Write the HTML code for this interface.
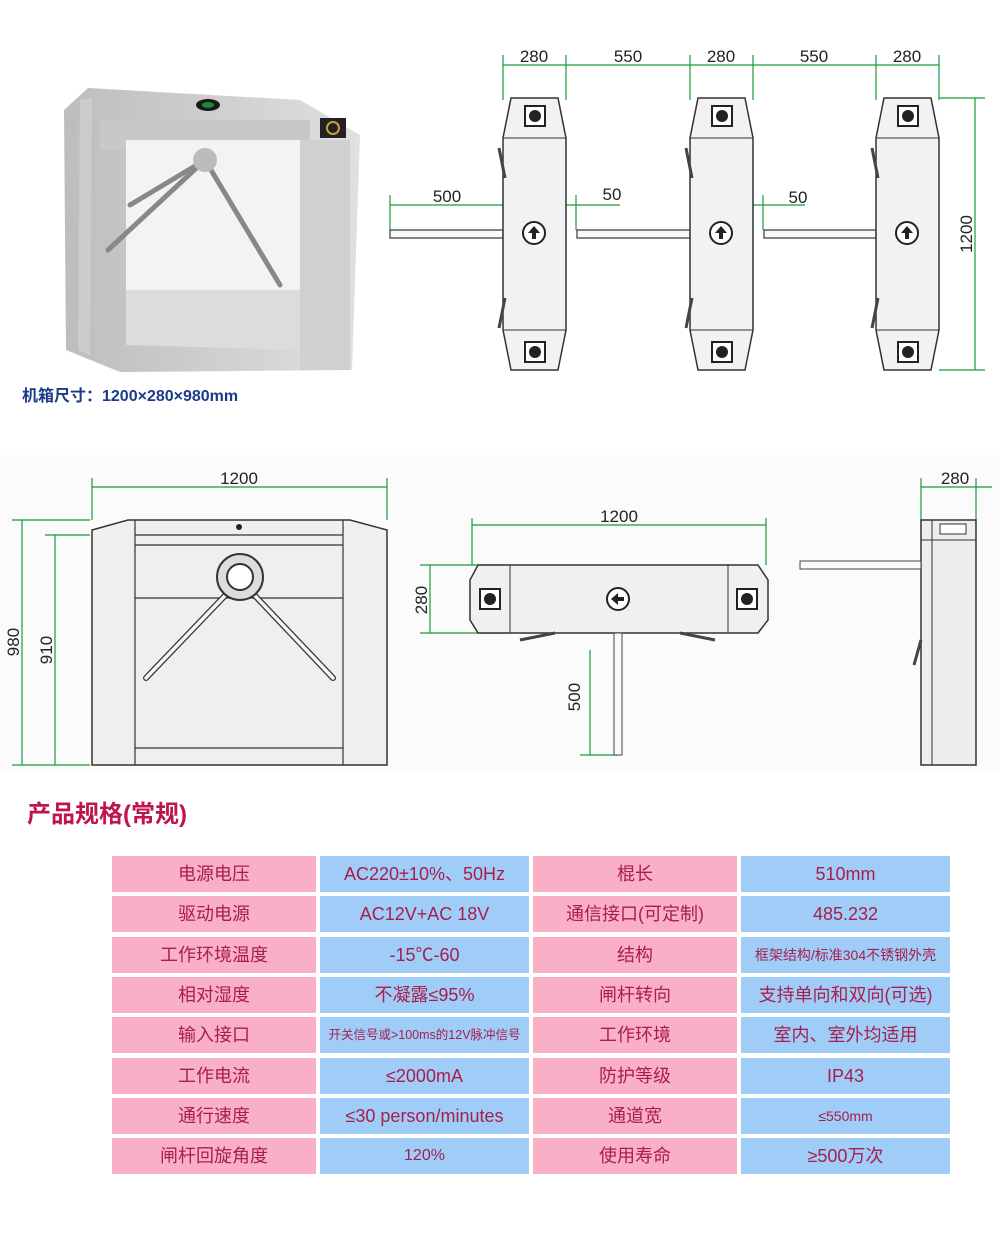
<!DOCTYPE html>
<html><head><meta charset="utf-8"><style>
body{margin:0;background:#fff;width:1000px;height:1248px;overflow:hidden;position:relative;font-family:"Liberation Sans","Noto Sans CJK SC",sans-serif}
svg{position:absolute;left:0;top:0}
.t{position:absolute;color:#a81e4c;font-size:18px;text-align:center;line-height:36px;height:36px;white-space:nowrap;overflow:hidden}
.p{background:#f9afc6}.b{background:#9fcdf8}
</style></head><body>
<svg width="1000" height="840" viewBox="0 0 1000 840" font-family="Liberation Sans, sans-serif">
<defs>
<linearGradient id="g1" x1="0" x2="1"><stop offset="0" stop-color="#bdbdbd"/><stop offset="1" stop-color="#e0e0e0"/></linearGradient>
<g id="unit">
<path d="M8 0 H55 L63 40 V232 L55 272 H8 L0 232 V40 Z" fill="#f2f2f2" stroke="#333" stroke-width="1.5"/>
<line x1="0" y1="40" x2="63" y2="40" stroke="#333"/><line x1="0" y1="232" x2="63" y2="232" stroke="#333"/>
<rect x="22" y="8" width="20" height="20" fill="#fff" stroke="#222" stroke-width="2"/><circle cx="32" cy="18" r="6" fill="#222"/>
<rect x="22" y="244" width="20" height="20" fill="#fff" stroke="#222" stroke-width="2"/><circle cx="32" cy="254" r="6" fill="#222"/>
<circle cx="31" cy="135" r="11" fill="#fff" stroke="#222" stroke-width="2"/><path d="M31 128 L37 135 H33 V141 H29 V135 H25 Z" fill="#222"/>
<path d="M-4 50 L2 80 M-4 230 L2 200" stroke="#444" stroke-width="3"/>
</g>
</defs>
<!-- photo -->
<path d="M88 88 L300 100 L360 135 L352 370 L120 372 L66 350 L64 110 Z" fill="url(#g1)"/>
<path d="M80 100 L92 98 L90 355 L78 350 Z" fill="#ccc"/>
<rect x="100" y="120" width="210" height="30" fill="#c8c8c8"/>
<rect x="126" y="140" width="180" height="150" fill="#f3f3f3"/>
<path d="M126 290 L300 290 L300 350 L126 345 Z" fill="#dcdcdc"/>
<rect x="300" y="140" width="50" height="230" fill="#d0d0d0"/>
<ellipse cx="208" cy="105" rx="12" ry="6" fill="#1a1a1a"/><ellipse cx="208" cy="105" rx="6" ry="3" fill="#1c8a3a"/>
<rect x="320" y="118" width="26" height="20" fill="#222"/><circle cx="333" cy="128" r="6" fill="none" stroke="#c9a040" stroke-width="2"/>
<path d="M205 160 L108 250 M205 160 L280 285 M205 160 L130 205" stroke="#888" stroke-width="5" stroke-linecap="round"/>
<circle cx="205" cy="160" r="12" fill="#bbb"/>
<text x="22" y="401" font-size="16" font-weight="bold" fill="#1b3a8a" font-family="Liberation Sans, Noto Sans CJK SC, sans-serif">机箱尺寸：1200×280×980mm</text>
<!-- plan -->
<g stroke="#1a9a3a" stroke-width="1.2" fill="none">
<line x1="503" y1="65" x2="939" y2="65"/>
<path d="M503 55 V100 M566 55 V100 M690 55 V100 M753 55 V100 M876 55 V100 M939 55 V100"/>
<line x1="939" y1="98" x2="985" y2="98"/><line x1="939" y1="370" x2="985" y2="370"/><line x1="975" y1="98" x2="975" y2="370"/>
<line x1="390" y1="205" x2="503" y2="205"/><line x1="390" y1="195" x2="390" y2="230"/>
<line x1="566" y1="205" x2="620" y2="205"/><line x1="576" y1="195" x2="576" y2="230"/>
<line x1="753" y1="205" x2="805" y2="205"/><line x1="763" y1="195" x2="763" y2="230"/>
</g>
<g font-size="17" fill="#222" text-anchor="middle">
<text x="534" y="62">280</text><text x="628" y="62">550</text><text x="721" y="62">280</text><text x="814" y="62">550</text><text x="907" y="62">280</text>
<text x="447" y="202">500</text><text x="612" y="200">50</text><text x="798" y="203">50</text>
<text x="0" y="0" transform="translate(972,234) rotate(-90)">1200</text>
</g>
<g stroke="#444" stroke-width="1.3" fill="#fafafa">
<rect x="390" y="230" width="113" height="8"/><rect x="577" y="230" width="113" height="8"/><rect x="764" y="230" width="112" height="8"/>
</g>
<use href="#unit" x="503" y="98"/><use href="#unit" x="690" y="98"/><use href="#unit" x="876" y="98"/>
<rect x="0" y="455" width="1000" height="318" fill="#fbfbfb"/>
<!-- front -->
<g stroke="#1a9a3a" stroke-width="1.2" fill="none">
<line x1="92" y1="487" x2="387" y2="487"/><line x1="92" y1="478" x2="92" y2="520"/><line x1="387" y1="478" x2="387" y2="520"/>
<line x1="12" y1="520" x2="90" y2="520"/><line x1="12" y1="765" x2="90" y2="765"/><line x1="22" y1="520" x2="22" y2="765"/>
<line x1="45" y1="535" x2="90" y2="535"/><line x1="55" y1="535" x2="55" y2="765"/>
</g>
<path d="M92 530 L128 520 H350 L387 530 V765 H92 Z" fill="#efefef" stroke="#333" stroke-width="1.5"/>
<path d="M135 520 V765 M343 520 V765 M135 535 H343 M135 545 H343 M135 598 H343 M135 748 H343" stroke="#333" stroke-width="1.2" fill="none"/>
<circle cx="239" cy="527" r="3" fill="#222"/>
<path d="M240 580 L146 678 M240 580 L333 678" stroke="#333" stroke-width="6" stroke-linecap="round"/>
<path d="M240 580 L146 678 M240 580 L333 678" stroke="#f5f5f5" stroke-width="3.5" stroke-linecap="round"/>
<circle cx="240" cy="577" r="23" fill="#ddd" stroke="#333" stroke-width="2"/><circle cx="240" cy="577" r="13" fill="#fff" stroke="#333" stroke-width="2"/>
<g font-size="17" fill="#222" text-anchor="middle">
<text x="239" y="484">1200</text>
<text transform="translate(19,642) rotate(-90)">980</text>
<text transform="translate(52,650) rotate(-90)">910</text>
</g>
<!-- top view -->
<g stroke="#1a9a3a" stroke-width="1.2" fill="none">
<line x1="472" y1="525" x2="766" y2="525"/><line x1="472" y1="518" x2="472" y2="565"/><line x1="766" y1="518" x2="766" y2="565"/>
<line x1="420" y1="565" x2="505" y2="565"/><line x1="420" y1="633" x2="505" y2="633"/><line x1="430" y1="565" x2="430" y2="633"/>
<line x1="590" y1="650" x2="590" y2="755"/><line x1="580" y1="755" x2="618" y2="755"/>
</g>
<path d="M470 580 L478 565 H758 L768 580 V620 L758 633 H478 L470 620 Z" fill="#f0f0f0" stroke="#333" stroke-width="1.5"/>
<path d="M510 565 V633 M728 565 V633" stroke="#333"/>
<rect x="480" y="589" width="20" height="20" fill="#fff" stroke="#222" stroke-width="2"/><circle cx="490" cy="599" r="6" fill="#222"/>
<rect x="737" y="589" width="20" height="20" fill="#fff" stroke="#222" stroke-width="2"/><circle cx="747" cy="599" r="6" fill="#222"/>
<circle cx="618" cy="599" r="11" fill="#fff" stroke="#222" stroke-width="2"/><path d="M611 599 L618 593 V597 H624 V601 H618 V605 Z" fill="#222"/>
<rect x="614" y="633" width="8" height="122" fill="#fafafa" stroke="#444"/>
<path d="M520 640 L555 633 M715 640 L680 633" stroke="#444" stroke-width="3"/>
<g font-size="17" fill="#222" text-anchor="middle">
<text x="619" y="522">1200</text>
<text transform="translate(427,600) rotate(-90)">280</text>
<text transform="translate(580,697) rotate(-90)">500</text>
</g>
<!-- side -->
<g stroke="#1a9a3a" stroke-width="1.2" fill="none">
<line x1="921" y1="487" x2="992" y2="487"/><line x1="921" y1="478" x2="921" y2="520"/><line x1="976" y1="478" x2="976" y2="520"/>
</g>
<path d="M921 520 H976 V765 H921 Z" fill="#eee" stroke="#333" stroke-width="1.5"/>
<path d="M932 520 V765 M921 540 H976" stroke="#333"/>
<rect x="940" y="524" width="26" height="10" fill="#fff" stroke="#333"/>
<rect x="800" y="561" width="121" height="8" fill="#fafafa" stroke="#444"/>
<path d="M914 665 L921 640" stroke="#444" stroke-width="3"/>
<text x="955" y="484" font-size="17" fill="#222" text-anchor="middle">280</text>
<!-- title -->
<text x="27" y="822" font-size="24" font-weight="bold" fill="#c0154a" font-family="Liberation Sans, Noto Sans CJK SC, sans-serif">产品规格(常规)</text>
</svg>

<div class="t p" style="left:112px;top:856px;width:204px">电源电压</div>
<div class="t b" style="left:320px;top:856px;width:209px">AC220±10%、50Hz</div>
<div class="t p" style="left:533px;top:856px;width:204px">棍长</div>
<div class="t b" style="left:741px;top:856px;width:209px">510mm</div>

<div class="t p" style="left:112px;top:896px;width:204px">驱动电源</div>
<div class="t b" style="left:320px;top:896px;width:209px">AC12V+AC 18V</div>
<div class="t p" style="left:533px;top:896px;width:204px">通信接口(可定制)</div>
<div class="t b" style="left:741px;top:896px;width:209px">485.232</div>

<div class="t p" style="left:112px;top:937px;width:204px">工作环境温度</div>
<div class="t b" style="left:320px;top:937px;width:209px">-15℃-60</div>
<div class="t p" style="left:533px;top:937px;width:204px">结构</div>
<div class="t b" style="left:741px;top:937px;width:209px;font-size:14px">框架结构/标准304不锈钢外壳</div>

<div class="t p" style="left:112px;top:977px;width:204px">相对湿度</div>
<div class="t b" style="left:320px;top:977px;width:209px">不凝露≤95%</div>
<div class="t p" style="left:533px;top:977px;width:204px">闸杆转向</div>
<div class="t b" style="left:741px;top:977px;width:209px">支持单向和双向(可选)</div>

<div class="t p" style="left:112px;top:1017px;width:204px">输入接口</div>
<div class="t b" style="left:320px;top:1017px;width:209px;font-size:12.5px">开关信号或>100ms的12V脉冲信号</div>
<div class="t p" style="left:533px;top:1017px;width:204px">工作环境</div>
<div class="t b" style="left:741px;top:1017px;width:209px">室内、室外均适用</div>

<div class="t p" style="left:112px;top:1058px;width:204px">工作电流</div>
<div class="t b" style="left:320px;top:1058px;width:209px">≤2000mA</div>
<div class="t p" style="left:533px;top:1058px;width:204px">防护等级</div>
<div class="t b" style="left:741px;top:1058px;width:209px">IP43</div>

<div class="t p" style="left:112px;top:1098px;width:204px">通行速度</div>
<div class="t b" style="left:320px;top:1098px;width:209px">≤30 person/minutes</div>
<div class="t p" style="left:533px;top:1098px;width:204px">通道宽</div>
<div class="t b" style="left:741px;top:1098px;width:209px;font-size:14px">≤550mm</div>

<div class="t p" style="left:112px;top:1138px;width:204px">闸杆回旋角度</div>
<div class="t b" style="left:320px;top:1138px;width:209px;font-size:16px">120%</div>
<div class="t p" style="left:533px;top:1138px;width:204px">使用寿命</div>
<div class="t b" style="left:741px;top:1138px;width:209px">≥500万次</div>
</body></html>
